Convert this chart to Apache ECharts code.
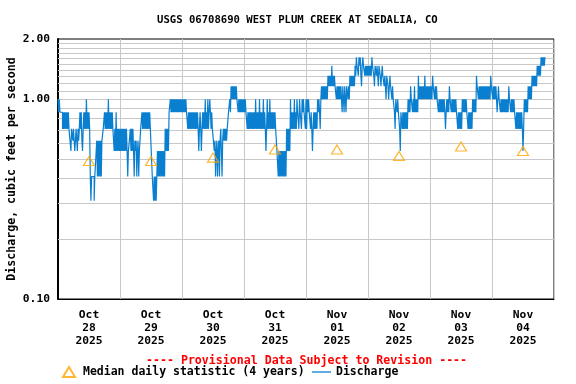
<!DOCTYPE html>
<html><head><meta charset="utf-8">
<script src="https://cdn.jsdelivr.net/npm/echarts@6/dist/echarts.min.js"></script>
<style>html,body{margin:0;padding:0;background:#fff}#c{width:576px;height:384px}</style>
</head><body><div id="c"></div><script>
// Tick labels (one per day, centred at noon)
const dayLabels = ['Oct\n28\n2025','Oct\n29\n2025','Oct\n30\n2025','Oct\n31\n2025','Nov\n01\n2025','Nov\n02\n2025','Nov\n03\n2025','Nov\n04\n2025'];
// Median daily statistic (4 years), one per day
const medianValues = [0.49,0.49,0.51,0.56,0.56,0.52,0.58,0.55];
// Horizontal grid line values (log axis)
const gridValues = [0.2,0.3,0.4,0.5,0.6,0.7,0.8,0.9,1.0,1.1,1.2,1.3,1.4,1.5,1.6,1.7,1.8,1.9];
// Discharge, cfs, every 15 minutes, one array per day
const oct28 = [
 1.0,0.86, 1.0,0.86, 0.86,0.86, 0.86,0.71, 0.86,0.71, 0.86,0.71, 0.86,0.71, 0.86,0.71,
 0.86,0.71, 0.71,0.71, 0.55,0.71, 0.71,0.62, 0.71,0.62, 0.55,0.62, 0.71,0.62, 0.55,0.71,
 0.62,0.71, 0.86,0.71, 0.86,0.62, 0.55,0.71, 0.86,0.71, 0.86,0.71, 1.0,0.71, 0.86,0.71,
 0.86,0.71, 0.41,0.31, 0.41,0.41, 0.41,0.41, 0.31,0.41, 0.41,0.41, 0.62,0.41, 0.62,0.41,
 0.62,0.41, 0.62,0.41, 0.62,0.62, 0.71,0.71, 0.86,0.71, 0.86,0.71, 0.86,0.71, 1.0,0.71,
 0.86,0.71, 0.86,0.71, 0.86,0.71, 0.71,0.55, 0.71,0.55, 0.86,0.55, 0.71,0.55, 0.71,0.55];
const oct29 = [
 0.71,0.55, 0.71,0.55, 0.71,0.55, 0.71,0.55, 0.71,0.55, 0.71,0.55, 0.41,0.55, 0.55,0.55,
 0.71,0.55, 0.71,0.55, 0.71,0.55, 0.41,0.62, 0.55,0.62, 0.41,0.55, 0.62,0.41, 0.55,0.55,
 0.71,0.71, 0.86,0.71, 0.86,0.71, 0.86,0.71, 0.86,0.71, 0.86,0.71, 0.86,0.71, 0.86,0.71,
 0.71,0.49, 0.41,0.41, 0.31,0.41, 0.31,0.41, 0.31,0.41, 0.55,0.41, 0.55,0.41, 0.55,0.41,
 0.55,0.41, 0.55,0.41, 0.55,0.41, 0.71,0.55, 0.71,0.55, 0.71,0.55, 0.86,0.86, 1.0,0.86,
 1.0,0.86, 1.0,0.86, 1.0,0.86, 1.0,0.86, 1.0,0.86, 1.0,0.86, 1.0,0.86, 1.0,0.86];
const oct30 = [
 1.0,0.86, 1.0,0.86, 1.0,0.86, 1.0,0.86, 0.86,0.71, 0.86,0.71, 0.86,0.71, 0.86,0.71,
 0.86,0.71, 0.86,0.71, 0.86,0.71, 0.86,0.71, 0.86,0.71, 0.55,0.71, 0.86,0.71, 0.55,0.71,
 0.86,0.71, 0.86,0.71, 1.0,0.71, 0.86,0.71, 1.0,0.71, 0.86,1.0, 0.86,0.71, 0.86,0.71,
 0.71,0.71, 0.55,0.62, 0.41,0.55, 0.62,0.41, 0.55,0.62, 0.41,0.62, 0.71,0.55, 0.41,0.62,
 0.71,0.62, 0.71,0.62, 0.71,0.62, 0.71,0.71, 0.86,0.86, 1.0,0.86, 1.16,1.0, 1.16,1.0,
 1.16,1.0, 1.16,1.0, 1.16,1.0, 1.0,0.86, 1.0,0.86, 1.0,0.86, 1.0,0.86, 1.0,0.86];
const oct31 = [
 1.0,0.86, 1.0,0.86, 0.86,0.71, 0.86,0.71, 0.86,0.71, 0.86,0.71, 0.86,0.71, 0.86,0.71,
 0.86,0.71, 1.0,0.71, 0.86,0.71, 0.86,0.71, 1.0,0.71, 0.86,0.71, 0.86,0.71, 1.0,0.71,
 0.86,0.71, 0.55,0.71, 1.0,0.71, 0.86,0.71, 1.0,0.71, 0.86,0.71, 0.86,0.71, 0.86,0.71,
 0.86,0.71, 0.71,0.55, 0.55,0.41, 0.55,0.41, 0.55,0.41, 0.55,0.41, 0.55,0.41, 0.55,0.41,
 0.55,0.41, 0.71,0.55, 0.71,0.55, 0.71,0.55, 1.0,0.71, 0.86,0.71, 0.86,0.71, 1.0,0.71,
 0.86,0.71, 1.0,0.86, 0.86,0.71, 1.0,0.86, 0.86,0.71, 1.0,0.86, 1.0,0.86, 0.86,0.71];
const nov01 = [
 1.0,0.71, 1.0,0.86, 1.0,0.86, 0.86,0.71, 0.86,0.71, 0.55,0.71, 0.86,0.71, 0.86,0.71,
 0.86,0.71, 1.0,0.86, 1.0,0.86, 0.71,1.0, 1.16,1.0, 1.16,1.0, 1.16,1.0, 1.16,1.0,
 1.16,1.0, 1.31,1.16, 1.31,1.16, 1.31,1.16, 1.47,1.16, 1.31,1.16, 1.31,1.16, 1.16,1.0,
 1.16,1.0, 1.16,1.0, 1.16,1.0, 1.16,1.0, 0.86,1.16, 1.0,0.86, 1.16,1.0, 0.86,1.16,
 1.16,1.0, 1.16,1.0, 1.31,1.16, 1.31,1.16, 1.31,1.16, 1.31,1.16, 1.47,1.31, 1.62,1.47,
 1.47,1.31, 1.62,1.47, 1.62,1.31, 1.16,1.47, 1.62,1.47, 1.47,1.31, 1.47,1.31, 1.47,1.31];
const nov02 = [
 1.47,1.31, 1.47,1.31, 1.47,1.31, 1.62,1.47, 1.47,1.31, 1.16,1.47, 1.47,1.31, 1.47,1.31,
 1.16,1.47, 1.47,1.31, 1.16,1.31, 1.47,1.31, 1.31,1.16, 1.31,1.16, 1.0,1.31, 1.31,1.16,
 1.0,1.16, 1.31,1.16, 1.16,1.0, 1.16,1.0, 1.0,0.86, 0.71,1.0, 1.0,0.86, 1.0,0.86,
 0.86,0.71, 0.55,0.86, 0.86,0.71, 0.86,0.71, 0.86,0.71, 0.86,0.71, 0.86,0.71, 1.0,0.86,
 1.0,0.86, 1.16,1.0, 1.0,0.86, 1.0,0.86, 1.16,0.86, 1.0,0.86, 1.0,0.86, 1.31,1.0,
 1.16,1.0, 1.16,1.0, 1.16,1.0, 1.16,1.0, 1.31,1.0, 1.16,1.0, 1.16,1.0, 1.16,1.0];
const nov03 = [
 1.16,1.0, 1.16,1.0, 1.31,1.16, 1.16,1.0, 1.16,1.0, 1.16,1.0, 1.0,0.86, 1.0,0.86,
 1.0,0.86, 1.0,0.86, 1.0,0.86, 1.0,0.86, 0.71,0.86, 1.0,0.86, 1.0,0.86, 1.16,1.0,
 1.0,0.86, 1.0,0.86, 1.0,0.86, 1.0,0.86, 1.0,0.86, 0.86,0.71, 0.86,0.71, 0.86,0.71,
 0.86,0.71, 1.0,0.86, 1.0,0.86, 1.0,0.86, 1.0,0.86, 0.86,0.71, 0.86,0.71, 0.86,0.71,
 0.86,0.71, 1.0,0.86, 1.0,0.86, 1.0,0.86, 1.31,1.16, 1.16,1.0, 1.16,1.0, 1.16,1.0,
 1.16,1.0, 1.16,1.0, 1.16,1.0, 1.16,1.0, 1.16,1.0, 1.16,1.0, 1.16,1.0, 1.31,1.16];
const nov04 = [
 1.16,1.0, 1.16,1.0, 1.16,1.0, 1.16,1.0, 0.86,1.0, 1.16,1.0, 1.0,0.86, 1.0,0.86,
 1.0,0.86, 1.0,0.86, 1.0,0.86, 1.0,0.86, 1.0,0.86, 1.16,1.0, 1.0,0.86, 1.0,0.86,
 1.0,0.86, 1.0,0.86, 0.86,0.71, 0.86,0.71, 0.86,0.71, 0.86,0.71, 0.86,0.71, 0.86,0.71,
 0.55,0.71, 1.0,0.86, 1.0,0.86, 1.0,0.86, 1.16,1.0, 1.16,1.0, 1.16,1.0, 1.31,1.16,
 1.31,1.16, 1.31,1.16, 1.31,1.16, 1.47,1.31, 1.47,1.31, 1.47,1.31, 1.62,1.47, 1.62,1.47,
 1.62,1.47, 1.62];

const days = [oct28, oct29, oct30, oct31, nov01, nov02, nov03, nov04];
const dischargeData = [];
days.forEach((arr, d) => arr.forEach((v, i) => dischargeData.push([d * 24 + i * 0.25, v])));
const medianData = medianValues.map((v, i) => [i * 24 + 12, v]);

const FONT = 'DejaVu Sans Mono';
const BLUE = '#0a7fd0';
const chart = echarts.init(document.getElementById('c'), null, {renderer: 'canvas'});
chart.setOption({
  animation: false,
  backgroundColor: '#fff',
  title: [
    {text: 'USGS 06708690 WEST PLUM CREEK AT SEDALIA, CO', left: 152, top: 10,
     textStyle: {fontFamily: FONT, fontWeight: 'bold', fontSize: 10.6, color: '#000'}},
    {text: '---- Provisional Data Subject to Revision ----', left: 141, top: 350,
     textStyle: {fontFamily: FONT, fontWeight: 'bold', fontSize: 11.6, color: '#ff0000'}}
  ],
  grid: {left: 58, right: 22, top: 39, bottom: 85, show: true, borderColor: '#000', borderWidth: 1,
         containLabel: false, outerBoundsMode: 'none'},
  legend: [
    {data: ['Median daily statistic (4 years)'], left: 62, top: 366, itemWidth: 12, itemHeight: 10, padding: 0,
     textStyle: {fontFamily: FONT, fontWeight: 'bold', fontSize: 11.5, color: '#000', padding: [0, 0, 0, 3]}},
    {data: [{name: 'Discharge', icon: 'path://M0 0 H19 V1.3 H0 Z'}], left: 312, top: 366, itemWidth: 19, itemHeight: 1.3, padding: 0,
     textStyle: {fontFamily: FONT, fontWeight: 'bold', fontSize: 11.5, color: '#000'}}
  ],
  xAxis: [
    {type: 'value', min: 0, max: 192, interval: 24,
     axisLine: {show: true, lineStyle: {color: '#000', width: 1}}, axisTick: {show: false}, axisLabel: {show: false},
     splitLine: {show: true, lineStyle: {color: '#c8c8c8', width: 1}}},
    {type: 'category', data: dayLabels, boundaryGap: true, position: 'bottom',
     axisLine: {show: false}, axisTick: {show: false}, splitLine: {show: false},
     axisLabel: {margin: 10, lineHeight: 13, fontFamily: FONT, fontWeight: 'bold', fontSize: 11.3, color: '#000'}}
  ],
  yAxis: {type: 'log', logBase: 10, min: 0.1, max: 2,
    name: 'Discharge, cubic feet per second', nameLocation: 'middle', nameRotate: 90, nameGap: 40,
    nameMoveOverlap: false,
    nameTextStyle: {fontFamily: FONT, fontWeight: 'bold', fontSize: 11.6, color: '#000'},
    axisLine: {show: true, lineStyle: {color: '#000', width: 2}}, axisTick: {show: false},
    splitLine: {show: false},
    axisLabel: {margin: 8, fontFamily: FONT, fontWeight: 'bold', fontSize: 11.3, color: '#000',
      formatter: v => Number(v).toFixed(2)}},
  series: [
    {name: 'grid', type: 'line', data: [], silent: true, z: 1,
     markLine: {silent: true, symbol: 'none', z: 1, label: {show: false}, animation: false,
       lineStyle: {color: '#c8c8c8', type: 'solid', width: 1},
       emphasis: {disabled: true},
       data: gridValues.map(v => ({yAxis: v}))}},
    {name: 'Discharge', type: 'line', step: 'end', data: dischargeData, symbol: 'none', showSymbol: false, z: 3,
     lineStyle: {color: BLUE, width: 1.2}, itemStyle: {color: BLUE}},
    {name: 'Median daily statistic (4 years)', type: 'scatter', data: medianData, symbol: 'triangle', symbolSize: [11, 9], z: 4,
     itemStyle: {color: 'rgba(0,0,0,0)', borderColor: '#ffa500', borderWidth: 1.2}}
  ]
});
</script></body></html>
